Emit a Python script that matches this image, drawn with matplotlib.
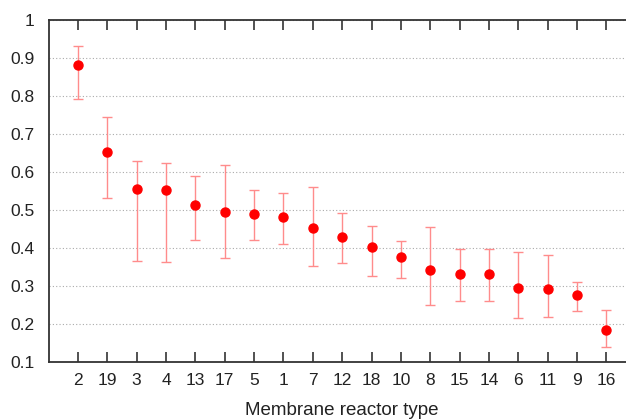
import numpy as np
import matplotlib.pyplot as plt

plt.rcParams['font.family'] = ['Liberation Sans', 'DejaVu Sans']

# Reactor types, ordered as on the x axis
reactor_types = ['2', '19', '3', '4', '13', '17', '5', '1', '7', '12',
                 '18', '10', '8', '15', '14', '6', '11', '9', '16']
# Mean values
means = [0.883, 0.654, 0.556, 0.553, 0.513, 0.495, 0.489, 0.482, 0.454, 0.428,
         0.402, 0.376, 0.343, 0.332, 0.332, 0.294, 0.291, 0.276, 0.185]
# Upper and lower ends of the error bars
upper = [0.932, 0.745, 0.629, 0.625, 0.590, 0.619, 0.552, 0.544, 0.561, 0.492,
         0.459, 0.419, 0.455, 0.397, 0.397, 0.390, 0.382, 0.311, 0.237]
lower = [0.793, 0.532, 0.365, 0.362, 0.420, 0.374, 0.422, 0.411, 0.353, 0.360,
         0.326, 0.321, 0.250, 0.261, 0.261, 0.215, 0.219, 0.235, 0.140]

means = np.array(means)
yerr = np.array([means - np.array(lower), np.array(upper) - means])
x = np.arange(1, len(reactor_types) + 1)

fig = plt.figure(figsize=(6.26, 4.19), dpi=100)
# axes run past the right edge of the figure, as in the cropped original
ax = fig.add_axes([0.0776, 0.136, 0.938, 0.816])

ax.errorbar(x, means, yerr=yerr, fmt='none', ecolor='#ff8c8c', elinewidth=1.0,
            capsize=3.4, capthick=1.0, zorder=2)
ax.plot(x, means, 'o', color='#ff0000', markersize=6.5, zorder=3)

ax.set_xlim(0, 20)
ax.set_ylim(0.1, 1.0)
ax.set_xticks(x)
ax.set_xticklabels(reactor_types)
ax.set_yticks(np.arange(0.1, 1.01, 0.1))
ax.set_yticklabels(['0.1', '0.2', '0.3', '0.4', '0.5', '0.6', '0.7', '0.8', '0.9', '1'])

ax.yaxis.grid(True, linestyle=(0, (1, 2)), color='#aaaaaa', linewidth=0.8)
ax.set_axisbelow(True)

for s in ax.spines.values():
    s.set_color('#333333')
    s.set_linewidth(1.3)

ax.tick_params(axis='x', direction='in', length=7, width=1.2, top=True,
               color='#333333', labelsize=12.5, pad=8, labelcolor='#222222')
ax.tick_params(axis='y', direction='in', length=0, labelsize=12.5, pad=10,
               labelcolor='#222222')

ax.set_xlabel('Membrane reactor type', fontsize=13.5, color='#222222', labelpad=10)

fig.savefig('out.png', dpi=100)
